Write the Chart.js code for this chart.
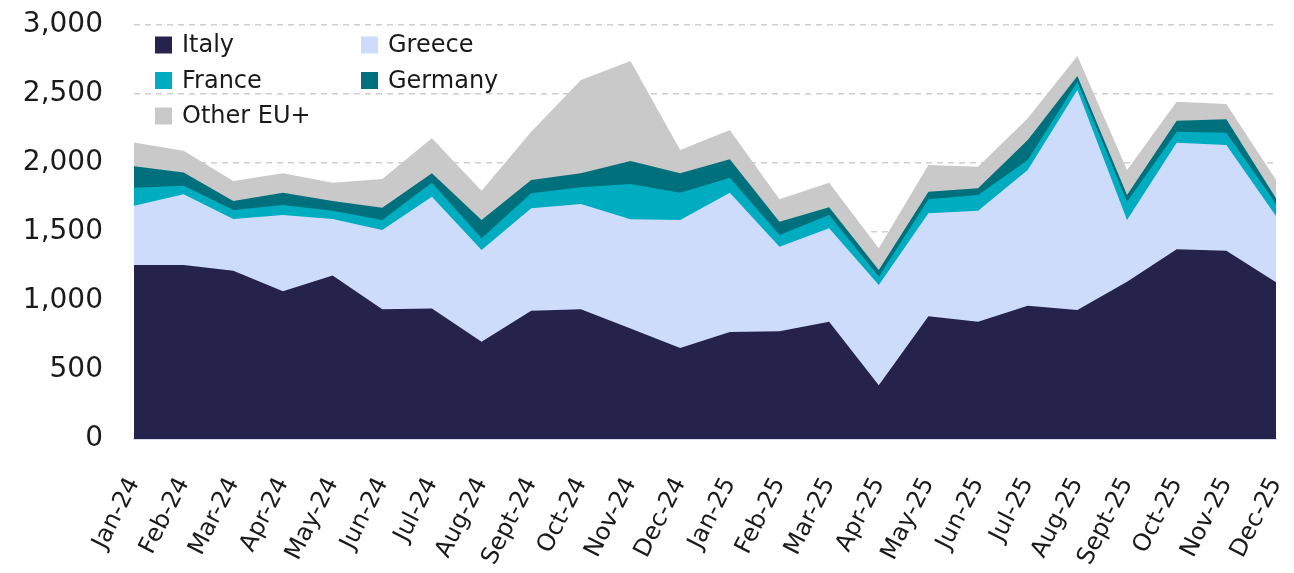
<!DOCTYPE html>
<html lang="en">
<head>
  <meta charset="UTF-8" />
  <title>Arrivals by country – stacked area</title>
  <script src="https://cdn.jsdelivr.net/npm/chart.js"></script>
  <style>
    html, body { margin: 0; padding: 0; background: #fff; }
    #wrap { width: 1294px; height: 573px; position: relative; }
  </style>
</head>
<body>
  <div id="wrap"><canvas id="areaChart"></canvas></div>

  <script>
    // months on the x axis
    const months = ["Jan-24", "Feb-24", "Mar-24", "Apr-24", "May-24", "Jun-24", "Jul-24", "Aug-24",
      "Sept-24", "Oct-24", "Nov-24", "Dec-24", "Jan-25", "Feb-25", "Mar-25", "Apr-25", "May-25",
      "Jun-25", "Jul-25", "Aug-25", "Sept-25", "Oct-25", "Nov-25", "Dec-25"];

    // values per country
    const italy   = [1260, 1260, 1220, 1070, 1185, 940, 945, 705, 930, 940, 800, 660, 775, 780, 850, 390, 890, 850, 965, 935, 1140, 1375, 1365, 1135];
    const greece  = [430, 513, 374, 553, 409, 574, 811, 665, 742, 763, 792, 927, 1010, 614, 677, 726, 745, 804, 984, 1594, 447, 772, 765, 481];
    const france  = [130, 63, 65, 73, 60, 73, 101, 84, 108, 121, 256, 198, 108, 84, 96, 60, 102, 114, 73, 60, 133, 80, 90, 87];
    const germany = [157, 96, 66, 89, 71, 89, 68, 133, 97, 101, 166, 140, 134, 97, 56, 49, 55, 49, 145, 41, 48, 80, 97, 41];
    const otherEU = [172, 157, 145, 140, 132, 208, 254, 212, 350, 676, 725, 169, 212, 162, 178, 157, 194, 156, 157, 145, 181, 137, 111, 133];

    const yTicks = [0, 500, 1000, 1500, 2000, 2500, 3000];

    const FONT = "'DejaVu Sans', sans-serif";

    // legend drawn inside the plot, 2 columns
    const insideLegend = {
      id: 'insideLegend',
      afterDraw(chart) {
        const ctx = chart.ctx;
        ctx.save();
        ctx.font = "24px " + FONT;
        ctx.textBaseline = 'middle';
        chart.data.datasets.forEach((ds, k) => {
          const col = k % 2, row = Math.floor(k / 2);
          const bx = col === 0 ? 155 : 361;
          const cy = 45 + row * 35.5;
          ctx.fillStyle = ds.backgroundColor;
          ctx.fillRect(bx, cy - 8.5, 17, 17);
          ctx.fillStyle = '#1a1a1a';
          ctx.fillText(ds.label, bx + 27, cy + 1);
        });
        ctx.restore();
      }
    };

    function area(label, data, color) {
      return {
        label: label,
        data: data,
        backgroundColor: color,
        borderColor: color,
        borderWidth: 0,
        pointRadius: 0,
        tension: 0,
        fill: true
      };
    }

    new Chart(document.getElementById("areaChart").getContext("2d"), {
      type: 'line',
      data: {
        labels: months,
        datasets: [
          area('Italy', italy, '#25234b'),
          area('Greece', greece, '#cddcfb'),
          area('France', france, '#00adc0'),
          area('Germany', germany, '#00717c'),
          area('Other EU+', otherEU, '#c9c9c9')
        ]
      },
      options: {
        responsive: true,
        maintainAspectRatio: false,
        animation: false,
        layout: { padding: { left: 0, right: 18, top: 25, bottom: 0 } },
        plugins: {
          legend: { display: false },
          tooltip: { enabled: false }
        },
        scales: {
          x: {
            offset: false,
            grid: { display: false, drawTicks: false },
            border: { display: true, color: '#d3d9e6', width: 2 },
            ticks: {
              color: '#1a1a1a',
              font: { family: FONT, size: 24 },
              maxRotation: 63,
              minRotation: 63,
              autoSkip: false,
              padding: 34
            },
            afterFit(scale) {
              scale.height = 134;
              scale.paddingLeft = 0;
              scale.paddingRight = 0;
            }
          },
          y: {
            stacked: true,
            min: 0,
            max: 3000,
            afterBuildTicks(scale) { scale.ticks = yTicks.map(v => ({ value: v })); },
            grid: { color: '#cfcfcf', lineWidth: 1.5, drawTicks: false },
            border: { display: false, dash: [6, 5] },
            ticks: {
              color: '#1a1a1a',
              font: { family: FONT, size: 28 },
              padding: 31,
              callback: v => v.toLocaleString('en-US')
            },
            afterFit(scale) {
              scale.width = 134;
              scale.paddingTop = 0;
              scale.paddingBottom = 0;
            }
          }
        }
      },
      plugins: [insideLegend]
    });
  </script>
</body>
</html>
